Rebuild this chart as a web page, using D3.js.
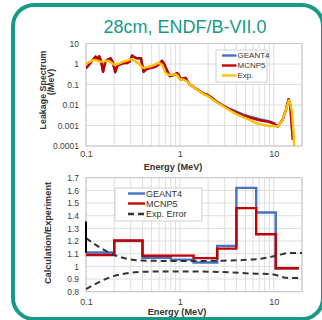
<!DOCTYPE html>
<html><head><meta charset="utf-8">
<script src="https://cdn.jsdelivr.net/npm/d3@7"></script>
<style>html,body{margin:0;padding:0;background:#fff;}svg{display:block;font-family:"Liberation Sans",Arial,sans-serif;}</style>
</head><body>
<svg id="c" width="322" height="320"></svg>
<script>
// ---------- DATA ----------
const titleText = "28cm, ENDF/B-VII.0";
// Top: leakage spectrum (/MeV)
const mcnpE = [0.1,0.107,0.118,0.127,0.133,0.138,0.144,0.152,0.16,0.168,0.183,0.193,0.205,0.215,0.224,0.25,0.272,0.29,0.31,0.33,0.35,0.385,0.41,0.44,0.47,0.55,0.6,0.645,0.68,0.72,0.78,0.86,0.93,0.97,1.02,1.1,1.15,1.2,1.27,1.5,1.76,2.0,2.2,2.44,2.8,3.38,4.0,4.68,5.5,6.49,7.5,8.98,10.1,11.0,12.4,13.5,14.4,15.0,15.6,16.0];
const mcnpV = [0.62,0.9,1.6,2.3,1.7,2.4,1.5,0.42,1.2,1.6,1.9,1.2,0.4,0.8,0.9,1.1,1.1,1.3,2.6,2.1,1.9,1.9,0.42,0.55,0.62,0.72,1.0,1.45,1.0,0.55,0.26,0.29,0.36,0.3,0.18,0.2,0.21,0.15,0.1,0.06,0.037,0.03,0.022,0.015,0.01,0.0062,0.0043,0.0031,0.0025,0.002,0.0017,0.0015,0.0012,0.00088,0.0019,0.006,0.019,0.01,0.0008,0.0002];
const geantV = [0.62,0.9,1.6,2.3,1.7,2.4,1.5,0.42,1.2,1.6,1.9,1.2,0.4,0.8,0.9,1.1,1.1,1.3,2.6,2.1,1.9,1.9,0.42,0.55,0.62,0.72,1.0,1.45,1.0,0.55,0.26,0.29,0.36,0.3,0.18,0.2,0.21,0.15,0.1,0.06,0.037,0.03,0.022,0.015,0.0102,0.0066,0.0047,0.0035,0.0028,0.0023,0.0019,0.0016,0.0013,0.00088,0.0019,0.006,0.019,0.01,0.0008,0.0002];
const expE = [0.1,0.11,0.12,0.13,0.14,0.155,0.17,0.185,0.2,0.22,0.25,0.28,0.3,0.33,0.37,0.4,0.45,0.5,0.55,0.6,0.65,0.7,0.75,0.85,0.9,0.95,1.0,1.1,1.2,1.27,1.5,1.76,2.0,2.44,2.8,3.38,4.0,4.68,5.5,6.49,7.5,8.98,10.1,11.0,12.4,13.5,14.5,15.0,15.6,16.2,16.6];
const expV = [1.0,1.3,1.6,1.5,1.3,1.35,1.45,1.2,0.9,1.0,1.3,1.5,1.75,1.4,1.0,0.65,0.7,0.8,0.95,1.15,0.9,0.38,0.3,0.3,0.32,0.26,0.18,0.17,0.14,0.1,0.058,0.035,0.027,0.014,0.0095,0.0055,0.0036,0.0026,0.0019,0.0013,0.0011,0.00095,0.00095,0.00088,0.0019,0.006,0.017,0.012,0.005,0.0005,0.00008];
const topYTicks = [10,1,0.1,0.01,0.001,0.0001];
const topYLabels = ["10","1","0.1","0.01","0.001","0.0001"];
const xTicks = [0.1,1,10];
const xLabels = ["0.1","1","10"];
const topLegend = ["GEANT4","MCNP5","Exp."];

// Bottom: Calculation/Experiment
const binEdges = [0.1,0.2,0.4,0.8,1.4,2.5,4,6.5,10.5,18.5];
const geantRatio = [1.11,1.20,1.068,1.053,1.03,1.162,1.62,1.425,0.985];
const mcnpRatio = [1.09,1.204,1.084,1.085,1.065,1.14,1.46,1.254,0.985];
const errUpE = [0.1,0.2,0.4,1,2.85,6.5,10.6,14.6,20];
const errUpV = [1.223,1.09,1.046,1.042,1.045,1.057,1.083,1.105,1.105];
const errLoE = [0.1,0.2,0.32,0.4,1.27,2.85,6.5,9,14.6,20];
const errLoV = [0.82,0.925,0.952,0.958,0.96,0.955,0.942,0.94,0.908,0.908];
const spikeE = [0.1,0.1];
const spikeV = [1.107,1.354];
const botYTicks = [0.8,0.9,1,1.1,1.2,1.3,1.4,1.5,1.6,1.7];
const botYLabels = ["0.8","0.9","1","1.1","1.2","1.3","1.4","1.5","1.6","1.7"];
const botLegend = ["GEANT4","MCNP5","Exp. Error"];

// ---------- STYLE ----------
const teal = "#179a85", cBlue = "#4472c4", cRed = "#c00000", cYel = "#ffc000";
const gridC = "#dedede", frameC = "#c4c4c4";

const svg = d3.select("#c");
svg.append("rect").attr("x",13).attr("y",5).attr("width",310).attr("height",314)
  .attr("rx",21).attr("fill","#fff").attr("stroke",teal).attr("stroke-width",4);
svg.append("text").attr("x",185).attr("y",33).attr("text-anchor","middle")
  .attr("font-size",18).attr("fill",teal).text(titleText);

const X0 = 86, X1 = 302;
const xTop = d3.scaleLog().domain([0.1,20]).range([X0,X1]);
const yTop = d3.scaleLog().domain([0.0001,10]).range([146,43.5]);
const xBot = d3.scaleLog().domain([0.1,20]).range([X0,X1]);
const yBot = d3.scaleLinear().domain([0.8,1.7]).range([291.7,177.7]);

const defs = svg.append("defs");
function clip(id, x, y) {
  const [a,b] = x.range(), [c,d] = y.range();
  defs.append("clipPath").attr("id",id).append("rect")
    .attr("x",a).attr("y",d).attr("width",b-a).attr("height",c-d);
}
clip("ct", xTop, yTop); clip("cb", xBot, yBot);

function gridFrame(x, y, yGrid) {
  const g = svg.append("g");
  const [a,b] = x.range(), [c,d] = y.range();
  x.ticks().forEach(t => g.append("line").attr("x1",x(t)).attr("x2",x(t)).attr("y1",d).attr("y2",c)
    .attr("stroke",gridC).attr("stroke-width",1));
  yGrid.forEach(t => g.append("line").attr("x1",a).attr("x2",b).attr("y1",y(t)).attr("y2",y(t))
    .attr("stroke",gridC).attr("stroke-width",1));
  g.append("rect").attr("x",a).attr("y",d).attr("width",b-a).attr("height",c-d)
    .attr("fill","none").attr("stroke",frameC).attr("stroke-width",1);
}
gridFrame(xTop, yTop, topYTicks);
gridFrame(xBot, yBot, botYTicks);

function axes(x, y, yT, yL, xLabY) {
  const ya = svg.append("g").attr("transform",`translate(${X0},0)`)
    .call(d3.axisLeft(y).tickValues(yT).tickFormat((d,i)=>yL[i]).tickSize(0).tickPadding(7));
  ya.select(".domain").remove();
  ya.selectAll("text").attr("font-size",8.5).attr("fill","#404040").attr("font-family","Liberation Sans, Arial, sans-serif");
  const xa = svg.append("g").attr("transform",`translate(0,${xLabY})`)
    .call(d3.axisBottom(x).tickValues(xTicks).tickFormat((d,i)=>xLabels[i]).tickSize(0).tickPadding(0));
  xa.select(".domain").remove();
  xa.selectAll("text").attr("font-size",9).attr("fill","#404040").attr("font-family","Liberation Sans, Arial, sans-serif");
}
axes(xTop, yTop, topYTicks, topYLabels, 151);
axes(xBot, yBot, botYTicks, botYLabels, 299);

// axis titles
svg.append("text").attr("x",173).attr("y",169.5).attr("text-anchor","middle").attr("font-size",9.2)
  .attr("font-weight","bold").attr("fill","#333").text("Energy (MeV)");
svg.append("text").attr("x",177).attr("y",315).attr("text-anchor","middle").attr("font-size",9.2)
  .attr("font-weight","bold").attr("fill","#333").text("Energy (MeV)");
svg.append("text").attr("transform","translate(46,90) rotate(-90)").attr("text-anchor","middle")
  .attr("font-size",8.9).attr("font-weight","bold").attr("fill","#333").text("Leakage Spectrum");
svg.append("text").attr("transform","translate(54,82) rotate(-90)").attr("text-anchor","middle")
  .attr("font-size",8.9).attr("font-weight","bold").attr("fill","#333").text("(/MeV)");
svg.append("text").attr("transform","translate(51,233) rotate(-90)").attr("text-anchor","middle")
  .attr("font-size",9.2).attr("font-weight","bold").attr("fill","#333").text("Calculation/Experiment");

// top lines
const lt = d3.line().x(d=>xTop(d[0])).y(d=>yTop(d[1]));
const gt = svg.append("g").attr("clip-path","url(#ct)");
function drawTop(E, V, col, w) {
  gt.append("path").attr("d", lt(E.map((e,i)=>[e,V[i]]))).attr("fill","none")
    .attr("stroke",col).attr("stroke-width",w).attr("stroke-linejoin","round");
}
drawTop(mcnpE, geantV, cBlue, 2.4);
drawTop(mcnpE, mcnpV, cRed, 2.4);
drawTop(expE, expV, cYel, 2.4);

// bottom
const gb = svg.append("g").attr("clip-path","url(#cb)");
const ls = d3.line().x(d=>xBot(d[0])).y(d=>yBot(d[1])).curve(d3.curveStepAfter);
function stepPts(vals){ const p = vals.map((v,i)=>[binEdges[i],v]); p.push([binEdges[binEdges.length-1], vals[vals.length-1]]); return p; }
gb.append("path").attr("d", ls(stepPts(geantRatio))).attr("fill","none").attr("stroke",cBlue).attr("stroke-width",2.4);
gb.append("path").attr("d", ls(stepPts(mcnpRatio))).attr("fill","none").attr("stroke",cRed).attr("stroke-width",2.4);
const lc = d3.line().x(d=>xBot(d[0])).y(d=>yBot(d[1])).curve(d3.curveMonotoneX);
[[errUpE,errUpV],[errLoE,errLoV]].forEach(([E,V]) =>
  gb.append("path").attr("d", lc(E.map((e,i)=>[e,V[i]]))).attr("fill","none")
    .attr("stroke","#333").attr("stroke-width",2).attr("stroke-dasharray","6,4"));
svg.append("path").attr("d", d3.line().x(d=>xBot(d[0])).y(d=>yBot(d[1]))(spikeE.map((e,i)=>[e,spikeV[i]])))
  .attr("stroke","#000").attr("stroke-width",2).attr("fill","none");

// legends
function legend(x, y, w, h, labels, cols, dashes, fs, dy, lx1, lx2) {
  const g = svg.append("g");
  g.append("rect").attr("x",x).attr("y",y).attr("width",w).attr("height",h)
    .attr("fill","#fff").attr("stroke","#d0d0d0").attr("stroke-width",1);
  labels.forEach((t,i) => {
    const yy = y + dy[i];
    g.append("line").attr("x1",lx1).attr("x2",lx2).attr("y1",yy).attr("y2",yy)
      .attr("stroke",cols[i]).attr("stroke-width",2.4).attr("stroke-dasharray",dashes[i]);
    g.append("text").attr("x",lx2+1).attr("y",yy).attr("dy","0.35em").attr("font-size",fs)
      .attr("fill","#333").text(t);
  });
}
legend(216, 50, 51, 32, topLegend, [cBlue,cRed,cYel], [null,null,null], 8, [5.5,15.5,25.5], 222, 236.5);
legend(115, 188, 87, 33, botLegend, [cBlue,cRed,"#333"], [null,null,"6,4"], 9, [5.5,15.5,26], 128, 145);
</script>
</body></html>
